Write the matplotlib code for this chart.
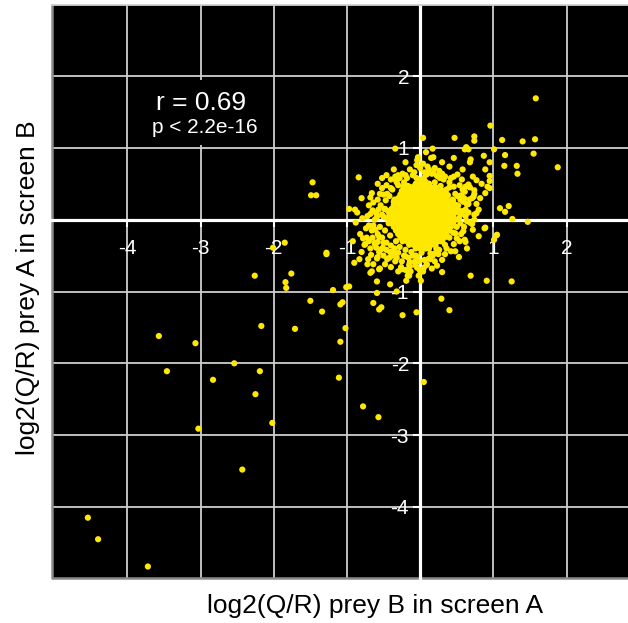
import matplotlib
matplotlib.use("Agg")
import matplotlib.pyplot as plt
from matplotlib.patches import Rectangle

plt.rcParams['font.family'] = ['Liberation Sans', 'DejaVu Sans']

# scattered preys, log2(Q/R) screen A vs screen B
outer_x = [-4.54, -4.40, -3.72, -3.57, -3.46, -3.07, -3.03, -2.83, -2.54, -2.43,
           -2.26, -2.25, -2.19, -2.17, -2.02, -1.84, -1.83, -1.76, -1.71, -1.50,
           -1.34, -1.19, -1.11, -1.09, -1.09, -1.06, -1.02, -1.01, -0.97, -0.78,
           -0.68, -0.66, -0.64, -0.59, -0.59, -0.57, -0.56, -0.53, -0.41, -0.32,
           -0.24, -0.19, -0.15, -0.15, -0.05, 0.01, 0.05,
           -1.47, -1.49, -1.42, -0.84, -0.97, -0.89, -0.88, -1.85, -2.01, -1.28,
           -1.28, -0.83,
           1.58, 0.96, 0.47, 0.74, 0.74, 1.12, 1.40, 1.57, 0.63, 0.61,
           0.66, 1.01, 0.87, 1.16, 1.55, 0.69, 0.68, 0.95, 1.15, 1.32,
           1.88, 0.89]
outer_y = [-4.15, -4.45, -4.83, -1.62, -2.11, -1.72, -2.91, -2.23, -2.00, -3.48,
           -0.78, -2.43, -2.11, -1.48, -2.83, -0.87, -0.95, -0.75, -1.52, -1.13,
           -1.28, -0.98, -2.20, -1.70, -1.18, -1.15, -1.51, -0.94, -0.93, -2.60,
           -0.74, -0.72, -1.16, -0.86, -1.02, -2.75, -1.25, -1.22, -0.90, -1.00,
           -1.33, -0.85, -0.74, -0.78, -1.29, -0.85, -2.26,
           0.52, 0.34, 0.34, 0.59, 0.15, 0.14, -0.04, -0.32, -0.39, -0.46,
           -0.48, -0.55,
           1.69, 1.31, 1.14, 1.16, 1.10, 1.11, 1.09, 1.12, 1.01, 0.98,
           0.98, 0.98, 0.89, 0.90, 0.92, 0.84, 0.80, 0.80, 0.75, 0.75,
           0.73, 0.70]

# points around the dense centre
halo_x = [0.04, 0.17, -0.34, 0.08, -0.03, -0.04, 0.18, 0.15, -0.05, 0.10,
          1.33, -0.30, -0.24, -0.34, -0.40, -0.05, 0.16, 0.23, 0.51, 0.57,
          0.77, 0.95, 0.95, -0.66, -0.68, -0.45, 0.61, 0.74, 0.92, 0.95,
          0.89, 1.09, 1.16, 1.21, 1.26, 1.47, -0.49, -0.79, 0.65, 0.67,
          0.77, 0.88, 0.89, 1.05, 0.68, 0.71, 0.80, 0.61, 0.62, 0.53,
          0.69, 0.91, 1.25, 0.29, 0.40, -0.78, -0.75, -0.65, -0.71, -0.56,
          -0.26, -0.14, -0.15, -0.07, -0.01, 0.23, 0.30, 0.36, 0.00, 0.04,
          0.09, 0.14, 0.17, 0.20,
          -0.61, -0.76, -0.62, -0.58, -0.60, -0.56, -0.53, -0.51, -0.67, -0.59,
          -0.58, -0.42, -0.45, -0.50, -0.41, -0.35, -0.34, -0.32, -0.25, -0.26,
          -0.25, -0.20, -0.16, -0.14, -0.14, -0.55, -0.17, -0.15, -0.13, -0.04,
          0.01, -0.02, 0.59, 1.04, 1.01, 0.48, 0.50, 0.09, 0.05,
          -0.32, 0.10, 0.07, -0.09, -0.17, -0.23, -0.25, -0.21, -0.26, -0.65,
          -0.57, -0.48, -0.52, -0.59, -0.36, -0.32, -0.36, -0.42, -0.45,
          0.18, 0.30, 0.27, 0.32, 0.09, 0.05, 0.66, 0.68, 0.40, 0.36,
          0.74, 0.73, 0.71, 0.51, 0.55, 0.59, 0.64, 0.66, 0.80, 0.77,
          0.74, 0.45, 0.48, 0.52, 0.55, 0.36, 0.30, 0.25,
          -0.72, -0.70, -0.66, -0.62, -0.60, -0.58, -0.55, -0.54, -0.52, -0.50,
          -0.48, -0.47, -0.46, -0.44, -0.43, -0.42, -0.41, -0.40, -0.38, -0.37,
          -0.35, -0.33, -0.30, -0.28, -0.22, -0.20, -0.18, -0.12, -0.10, -0.06,
          0.00, 0.02, 0.06, 0.08, 0.12, 0.14, 0.20, 0.22, 0.28, 0.28,
          0.33, 0.34, 0.38, 0.40, 0.44, 0.45, 0.48, 0.50, 0.52, 0.53,
          0.55, 0.58, 0.60, 0.62, 0.46, 0.40, -0.25, -0.15, 0.25, -0.35,
          -0.62, -0.68, -0.73, -0.50,
          -0.70, -0.64, -0.58, -0.55, -0.52, -0.46, -0.40, -0.33, -0.28, -0.20,
          -0.14, -0.08, 0.00, 0.04, 0.12, 0.20, 0.26, 0.34, 0.42, 0.46,
          0.54, 0.58, 0.62, 0.56, 0.62, 0.66, 0.64, 0.60, 0.56, 0.54,
          0.46, 0.42, 0.34, 0.30, 0.20, 0.12, 0.06, -0.04, -0.10, -0.22,
          -0.30, -0.38, -0.46, -0.50, -0.56, -0.64, -0.68, -0.74, -0.70, -0.80,
          -0.72, -0.64, -0.48, -0.40, -0.30, -0.20, -0.06, 0.16, 0.26, 0.48,
          0.64, 0.72, 0.74, 0.82, 0.84, 0.72, 0.58, 0.40, -0.46, -0.58,
          -0.80, -0.86, -0.82, -0.92, -0.90, -0.52, -0.36, -0.20, 0.30, 0.46]
halo_y = [1.14, 0.99, 0.99, 0.94, 0.87, 0.83, 0.87, 0.86, 0.76, 0.74,
          0.64, 0.62, 0.64, 0.60, 0.56, 0.58, 0.64, 0.61, 0.63, 0.56,
          0.55, 0.61, 0.54, 0.37, 0.31, 0.36, 0.39, 0.41, 0.46, 0.44,
          0.37, 0.16, 0.11, 0.19, 0.01, -0.03, 0.15, 0.02, 0.22, 0.28,
          0.22, -0.12, -0.11, -0.21, -0.04, -0.06, -0.23, -0.28, -0.31, -0.52,
          -0.78, -0.85, -0.86, -1.10, -1.26, -0.26, -0.34, -0.25, -0.55, -0.69,
          -0.68, -0.60, -0.63, -0.58, -0.58, -0.64, -0.73, -0.40, -0.71, -0.72,
          -0.62, -0.47, -0.50, -0.47,
          -0.14, -0.35, -0.34, -0.31, -0.39, -0.45, -0.41, -0.39, -0.49, -0.54,
          -0.52, -0.53, -0.55, -0.50, -0.45, -0.46, -0.58, -0.53, -0.58, -0.66,
          -0.69, -0.51, -0.53, -0.59, -0.65, -0.68, -0.78, -0.75, -0.72, -0.67,
          -0.72, -0.78, -0.16, -0.22, -0.28, -0.19, -0.26, -0.63, -0.67,
          0.52, 0.65, 0.53, 0.46, 0.47, 0.46, 0.38, 0.34, 0.30, 0.13,
          0.14, 0.15, 0.07, 0.04, 0.25, 0.21, 0.16, 0.07, 0.02,
          0.65, 0.64, 0.58, 0.56, 0.63, 0.58, 0.49, 0.45, 0.45, 0.42,
          0.36, 0.32, 0.30, 0.33, 0.28, 0.25, 0.21, 0.22, 0.14, 0.09,
          0.07, 0.27, 0.21, 0.14, 0.07, 0.35, 0.30, 0.25,
          0.05, -0.08, -0.15, 0.00, 0.09, -0.20, -0.10, 0.20, -0.25, 0.04,
          -0.15, 0.27, -0.32, 0.12, -0.05, 0.33, -0.22, -0.36, 0.42, -0.44,
          0.28, -0.30, 0.48, -0.38, 0.52, -0.42, 0.58, -0.45, 0.62, -0.50,
          0.55, -0.46, 0.66, -0.40, 0.50, -0.55, 0.52, -0.40, 0.47, -0.30,
          0.40, -0.35, 0.34, -0.25, 0.28, -0.18, 0.36, -0.10, 0.20, 0.02,
          -0.05, 0.12, 0.30, 0.05, 0.46, 0.52, 0.40, 0.46, -0.48, -0.40,
          -0.32, -0.40, -0.25, 0.35,
          0.20, 0.24, 0.28, 0.36, 0.44, 0.48, 0.44, 0.55, 0.58, 0.62,
          0.70, 0.66, 0.72, 0.78, 0.70, 0.72, 0.68, 0.60, 0.58, 0.60,
          0.48, 0.42, 0.46, 0.34, 0.14, 0.10, -0.02, -0.10, -0.20, -0.30,
          -0.34, -0.44, -0.48, -0.56, -0.58, -0.54, -0.56, -0.52, -0.50, -0.50,
          -0.46, -0.50, -0.42, -0.32, -0.24, -0.08, 0.08, -0.12, -0.30, -0.45,
          -0.62, -0.62, -0.62, -0.66, -0.72, -0.70, -0.64, -0.68, -0.42, -0.44,
          -0.40, -0.14, 0.00, 0.30, 0.50, 0.60, 0.70, 0.74, 0.62, 0.50,
          0.30, 0.10, -0.20, -0.30, -0.60, 0.58, 0.70, 0.80, 0.80, 0.86]

# saturated core of the cloud, row by row (y: x values)
core_rows = {
    0.50: [-0.06, 0.0, 0.06, 0.12],
    0.45: [-0.15, -0.09, -0.03, 0.03, 0.09, 0.15, 0.21],
    0.40: [-0.24, -0.18, -0.12, -0.06, 0.0, 0.06, 0.12, 0.18, 0.24, 0.30],
    0.35: [-0.27, -0.21, -0.15, -0.09, -0.03, 0.03, 0.09, 0.15, 0.21, 0.27, 0.33],
    0.30: [-0.30, -0.24, -0.18, -0.12, -0.06, 0.0, 0.06, 0.12, 0.18, 0.24, 0.30, 0.36],
    0.25: [-0.33, -0.27, -0.21, -0.15, -0.09, -0.03, 0.03, 0.09, 0.15, 0.21, 0.27, 0.33, 0.39],
    0.20: [-0.36, -0.30, -0.24, -0.18, -0.12, -0.06, 0.0, 0.06, 0.12, 0.18, 0.24, 0.30, 0.36, 0.42],
    0.15: [-0.39, -0.33, -0.27, -0.21, -0.15, -0.09, -0.03, 0.03, 0.09, 0.15, 0.21, 0.27, 0.33, 0.39, 0.45],
    0.10: [-0.42, -0.36, -0.30, -0.24, -0.18, -0.12, -0.06, 0.0, 0.06, 0.12, 0.18, 0.24, 0.30, 0.36, 0.42, 0.48],
    0.05: [-0.39, -0.33, -0.27, -0.21, -0.15, -0.09, -0.03, 0.03, 0.09, 0.15, 0.21, 0.27, 0.33, 0.39, 0.45],
    0.00: [-0.42, -0.36, -0.30, -0.24, -0.18, -0.12, -0.06, 0.0, 0.06, 0.12, 0.18, 0.24, 0.30, 0.36, 0.42, 0.48],
    -0.05: [-0.39, -0.33, -0.27, -0.21, -0.15, -0.09, -0.03, 0.03, 0.09, 0.15, 0.21, 0.27, 0.33, 0.39, 0.45],
    -0.10: [-0.36, -0.30, -0.24, -0.18, -0.12, -0.06, 0.0, 0.06, 0.12, 0.18, 0.24, 0.30, 0.36, 0.42],
    -0.15: [-0.33, -0.27, -0.21, -0.15, -0.09, -0.03, 0.03, 0.09, 0.15, 0.21, 0.27, 0.33, 0.39],
    -0.20: [-0.30, -0.24, -0.18, -0.12, -0.06, 0.0, 0.06, 0.12, 0.18, 0.24, 0.30, 0.36],
    -0.25: [-0.27, -0.21, -0.15, -0.09, -0.03, 0.03, 0.09, 0.15, 0.21, 0.27, 0.33],
    -0.30: [-0.24, -0.18, -0.12, -0.06, 0.0, 0.06, 0.12, 0.18, 0.24, 0.30],
    -0.35: [-0.15, -0.09, -0.03, 0.03, 0.09, 0.15, 0.21],
    -0.40: [-0.06, 0.0, 0.06, 0.12],
}

x_ticks = [-4, -3, -2, -1, 1, 2]
y_ticks = [-4, -3, -2, -1, 1, 2]
r_text = 'r = 0.69'
p_text = 'p < 2.2e-16'

core_x = [xv for yv, xs in core_rows.items() for xv in xs]
core_y = [yv for yv, xs in core_rows.items() for xv in xs]
all_x = outer_x + halo_x + core_x
all_y = outer_y + halo_y + core_y

fig = plt.figure(figsize=(6.28, 6.23), dpi=100)
ax = fig.add_axes([52 / 628, 45 / 623, 576 / 628, 573 / 623])
ax.set_facecolor('black')
ax.set_xlim(-5.03, 2.84)
ax.set_ylim(-4.99, 2.99)

ax.set_axisbelow(True)
ax.grid(True, color='#cfcfcf', linewidth=1.3)
ax.set_xticks(x_ticks)
ax.set_yticks(y_ticks)
ax.set_xticklabels([str(t) for t in x_ticks])
ax.set_yticklabels([str(t) for t in y_ticks])

# axes crossing at the origin
for side in ['left', 'bottom']:
    ax.spines[side].set_position(('data', 0))
    ax.spines[side].set_color('white')
    ax.spines[side].set_linewidth(2.3)
ax.spines['top'].set_color('#cfcfcf')
ax.spines['top'].set_linewidth(1.3)
ax.spines['right'].set_visible(False)
ax.plot([0, 0, 1], [1, 0, 0], transform=ax.transAxes, color='#8a8a8a',
        linewidth=1.8, clip_on=False, zorder=2)

ax.tick_params(axis='both', colors='white', direction='out', length=5,
               width=1.5, labelsize=15)
ax.tick_params(axis='x', pad=9)
ax.tick_params(axis='y', pad=3)

ax.scatter(all_x, all_y, s=20, c='#ffe800', edgecolors='none', zorder=3)

# correlation box
ax.add_patch(Rectangle((-3.96, 1.04), 1.89, 0.91, facecolor='black',
                       edgecolor='none', zorder=1.5))
ax.text(-3.0, 1.63, r_text, color='white', fontsize=19, ha='center',
        va='center', zorder=4)
ax.text(-2.94, 1.28, p_text, color='white', fontsize=15, ha='center',
        va='center', zorder=4)

fig.text(375 / 628, 1 - 606 / 623, 'log2(Q/R) prey B in screen A',
         ha='center', va='center', fontsize=19)
fig.text(28 / 628, 1 - 288 / 623, 'log2(Q/R) prey A in screen B',
         ha='center', va='center', fontsize=19, rotation=90)

fig.savefig('out.png', dpi=100, facecolor='white')
